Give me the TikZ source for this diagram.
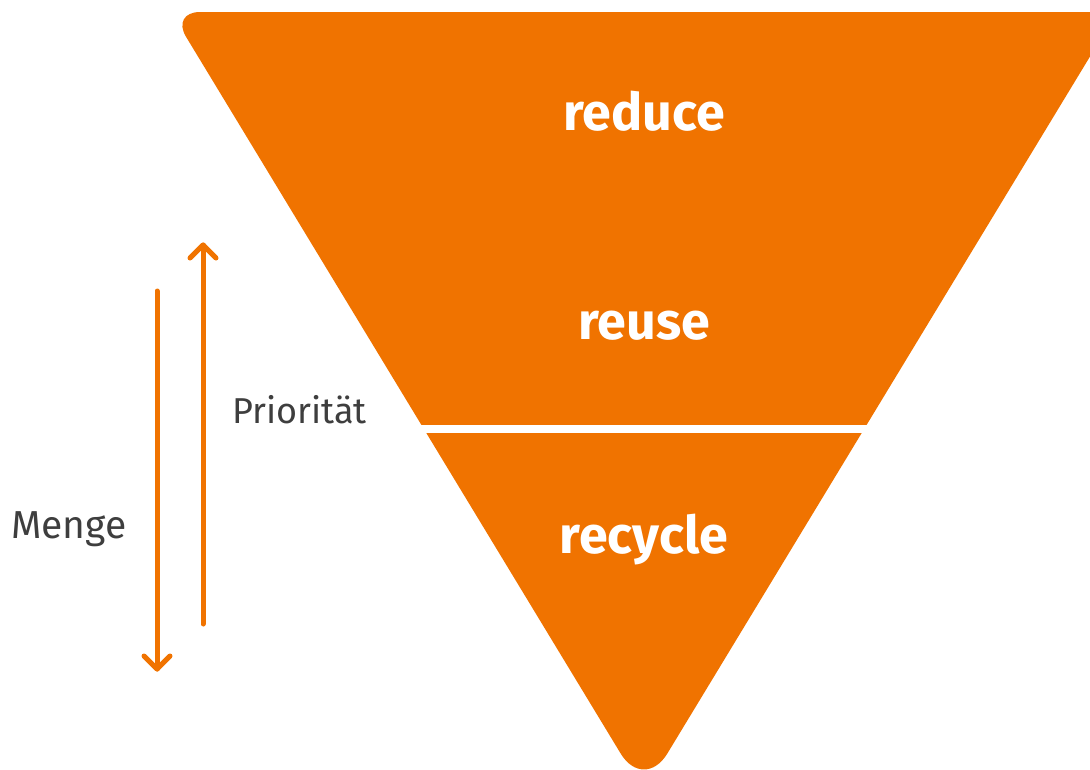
\documentclass[tikz,border=0pt]{standalone}
\usepackage{fontspec}
\usetikzlibrary{calc}
\setmainfont{Fira Sans}
\definecolor{ora}{HTML}{F07300}
\definecolor{txt}{HTML}{3E3E3E}
\tikzset{
  lbl/.style={text=white, font=\bfseries\fontsize{52}{60}\selectfont, anchor=base, inner sep=0pt},
  side/.style={text=txt, anchor=base west, inner sep=0pt},
  arr/.style={draw=ora, line width=5pt, line cap=round, line join=round}
}
\begin{document}
\begin{tikzpicture}[x=1pt,y=-1pt]
\useasboundingbox (0,0) rectangle (1090,769);
\clip (0,0) rectangle (1090,769);
\fill[ora] [rounded corners=29pt] (171,12) -- (1117,12) [rounded corners=45pt] -- (644,792) [rounded corners=29pt] -- cycle;
\draw[white, line width=8pt] (300,429) -- (1000,429);
\node[lbl] (reduce) at (644,130) {reduce};
\node[lbl] (reuse) at (644,339) {reuse};
\node[lbl] (recycle) at (644,553) {recycle};
\node[side, font=\fontsize{36}{40}\selectfont] (prio) at (232,423) {Priorität};
\node[side, font=\fontsize{39}{44}\selectfont] (menge) at (11,538) {Menge};
% up arrow
\coordinate (ub) at (203,624);
\coordinate (ut) at (203,245);
\draw[arr] (ub) -- (ut);
\draw[arr] ($(ut)+(-13,13)$) -- (ut) -- ($(ut)+(13,13)$);
% down arrow
\coordinate (dt) at (157,291);
\coordinate (db) at (157,669);
\draw[arr] (dt) -- (db);
\draw[arr] ($(db)+(-13,-13)$) -- (db) -- ($(db)+(13,-13)$);
\end{tikzpicture}
\end{document}
